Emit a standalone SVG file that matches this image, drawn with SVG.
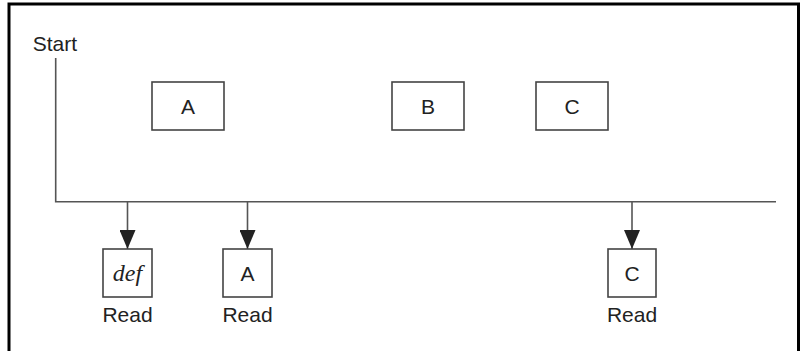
<svg xmlns="http://www.w3.org/2000/svg" width="801" height="351" viewBox="0 0 801 351">
<defs>
<style>
.frame{fill:none;stroke:#000;stroke-width:3}
.box{fill:#fff;stroke:#444;stroke-width:1.6}
.wire{fill:none;stroke:#555;stroke-width:1.6}
.t{font-family:"Liberation Sans",Arial,sans-serif;font-size:21px;fill:#222;text-anchor:middle}
.it{font-family:"Liberation Serif","Times New Roman",serif;font-style:italic;font-size:24px;fill:#222;text-anchor:middle}
</style>
<marker id="ah" markerUnits="userSpaceOnUse" markerWidth="19" markerHeight="16" refX="19" refY="8" orient="auto" viewBox="0 0 19 16">
<path d="M0,0 L19,8 L0,16 Z" fill="#222"/>
</marker>
</defs>
<path class="frame" d="M9,351 V4 H798.5 V351"/>
<g id="connectors">
<path class="wire" d="M55.7,58 V201.7 H776"/>
<path class="wire" d="M127.5,201.7 V249" marker-end="url(#ah)"/>
<path class="wire" d="M247.5,201.7 V249" marker-end="url(#ah)"/>
<path class="wire" d="M632,201.7 V249" marker-end="url(#ah)"/>
</g>
<g id="start"><text x="32.7" y="50.7" class="t" style="text-anchor:start">Start</text></g>
<g id="nodeA"><rect class="box" x="152" y="82" width="72" height="48"/><text class="t" x="188" y="113.5">A</text></g>
<g id="nodeB"><rect class="box" x="392" y="82" width="72" height="48"/><text class="t" x="428" y="113.5">B</text></g>
<g id="nodeC"><rect class="box" x="536" y="82" width="72" height="48"/><text class="t" x="572" y="113.5">C</text></g>
<g id="readDef"><rect class="box" x="103" y="249" width="49" height="48"/><text class="it" x="127.5" y="281">def</text><text class="t" x="127.5" y="321.7">Read</text></g>
<g id="readA"><rect class="box" x="223" y="249" width="49" height="48"/><text class="t" x="247.5" y="280.5">A</text><text class="t" x="247.5" y="321.7">Read</text></g>
<g id="readC"><rect class="box" x="608" y="249" width="48" height="48"/><text class="t" x="632" y="280.5">C</text><text class="t" x="632" y="321.7">Read</text></g>
</svg>
